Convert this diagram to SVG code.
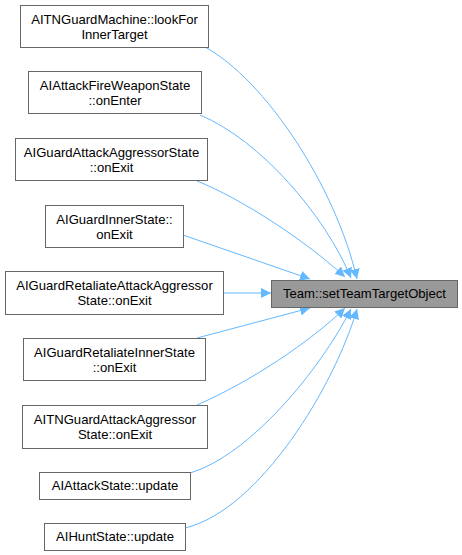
<svg xmlns="http://www.w3.org/2000/svg" width="462" height="555" viewBox="0 0 462 555">
<style>
.box{fill:#ffffff;stroke:#666666;stroke-width:1}
.tgt{fill:#999999;stroke:#666666;stroke-width:1}
text{font-family:"Liberation Sans",Arial,sans-serif;font-size:13.1px;fill:#000000;text-anchor:middle}
.e{fill:none;stroke:#63b8ff;stroke-width:1}
</style>
<defs>
<marker id="ah" markerWidth="11" markerHeight="10" refX="10" refY="5" orient="auto" markerUnits="userSpaceOnUse">
<polygon points="0,0 10,5 0,10" fill="#63b8ff"/>
</marker>
</defs>
<g id="edges">
<path class="e" marker-end="url(#ah)" d="M205,47 C265,80 335,185 357,279"/>
<path class="e" marker-end="url(#ah)" d="M200,115 C260,140 325,215 351,278"/>
<path class="e" marker-end="url(#ah)" d="M197,181 C240,198 305,240 345,277"/>
<path class="e" marker-end="url(#ah)" d="M183,235 L310,279"/>
<path class="e" marker-end="url(#ah)" d="M223,293 L271,293"/>
<path class="e" marker-end="url(#ah)" d="M197,338 L310,308"/>
<path class="e" marker-end="url(#ah)" d="M197,405 C250,382 310,342 345,308"/>
<path class="e" marker-end="url(#ah)" d="M190,473 C250,455 320,370 351,309"/>
<path class="e" marker-end="url(#ah)" d="M185,528 C260,510 335,385 357,309"/>
</g>
<g id="target">
<rect class="tgt" x="271.5" y="280.5" width="186" height="27"/>
<text x="364.5" y="298">Team::setTeamTargetObject</text>
</g>
<g id="n1">
<rect class="box" x="20.5" y="5.5" width="188" height="42"/>
<text x="114.5" y="24">AITNGuardMachine::lookFor</text>
<text x="114.5" y="39">InnerTarget</text>
</g>
<g id="n2">
<rect class="box" x="28.5" y="71.5" width="173" height="42"/>
<text x="115" y="90">AIAttackFireWeaponState</text>
<text x="115" y="105">::onEnter</text>
</g>
<g id="n3">
<rect class="box" x="15.5" y="138.5" width="192" height="42"/>
<text x="111.5" y="157">AIGuardAttackAggressorState</text>
<text x="111.5" y="172">::onExit</text>
</g>
<g id="n4">
<rect class="box" x="45.5" y="205.5" width="138" height="42"/>
<text x="114.5" y="224">AIGuardInnerState::</text>
<text x="114.5" y="239">onExit</text>
</g>
<g id="n5">
<rect class="box" x="5.5" y="271.5" width="218" height="43"/>
<text x="114.5" y="290">AIGuardRetaliateAttackAggressor</text>
<text x="114.5" y="305">State::onExit</text>
</g>
<g id="n6">
<rect class="box" x="23.5" y="338.5" width="182" height="42"/>
<text x="114.5" y="357">AIGuardRetaliateInnerState</text>
<text x="114.5" y="372">::onExit</text>
</g>
<g id="n7">
<rect class="box" x="22.5" y="405.5" width="185" height="43"/>
<text x="115" y="424">AITNGuardAttackAggressor</text>
<text x="115" y="439">State::onExit</text>
</g>
<g id="n8">
<rect class="box" x="39.5" y="472.5" width="151" height="27"/>
<text x="115" y="490">AIAttackState::update</text>
</g>
<g id="n9">
<rect class="box" x="44.5" y="523.5" width="141" height="27"/>
<text x="115" y="541">AIHuntState::update</text>
</g>
</svg>
